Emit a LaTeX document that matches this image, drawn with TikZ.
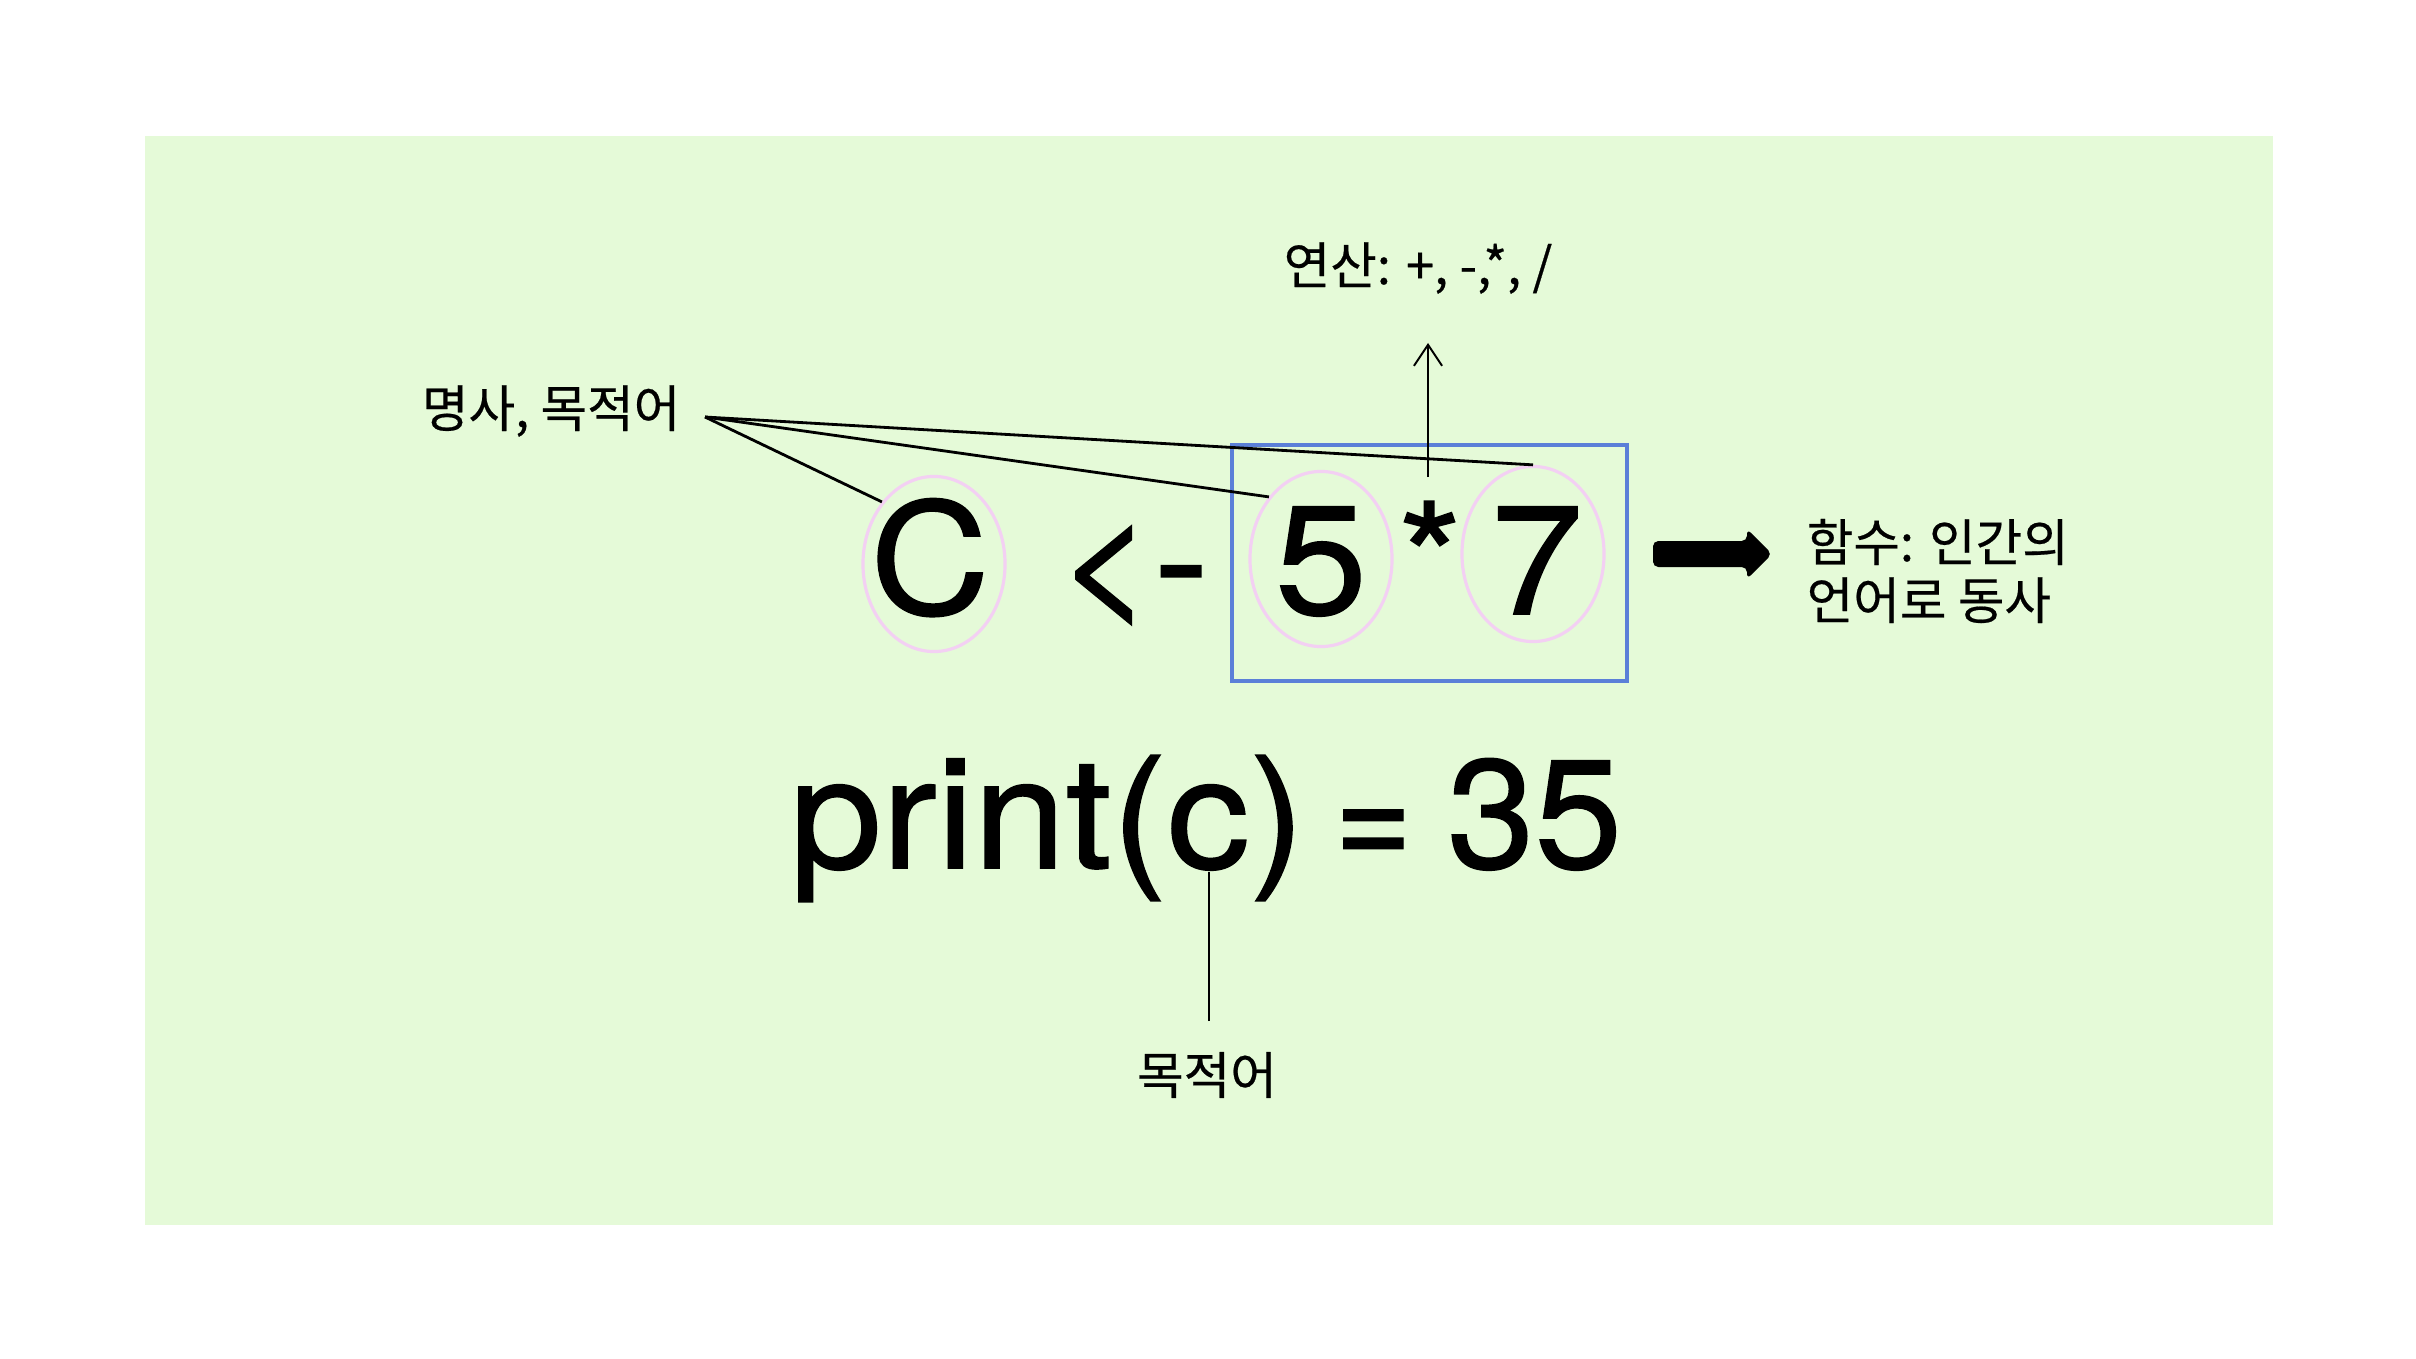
\documentclass[tikz,border=0pt]{standalone}
\usepackage{fontspec}
\usepackage{graphicx}
\usetikzlibrary{arrows.meta,shapes.geometric}
\newfontfamily\krfont[FakeBold=0.4]{Noto Sans CJK KR}
\newfontfamily\bigfont[FakeStretch=1.07,FakeBold=1]{TeX Gyre Heros}
\definecolor{bggreen}{HTML}{E5FAD8}
\definecolor{pinkring}{HTML}{F3D0F3}
\definecolor{boxblue}{HTML}{5B7FD8}
\tikzset{
  bigtxt/.style={font=\bigfont\fontsize{44}{52}\selectfont, anchor=base, inner sep=0pt},
  lbl/.style={font=\krfont\fontsize{14.4}{16.5}\selectfont, inner sep=0pt},
  ring/.style={ellipse, draw=pinkring, line width=0.9pt, minimum width=1.42cm, minimum height=1.75cm, inner sep=0pt},
  leader/.style={line width=0.8pt},
  thinline/.style={line width=0.55pt},
}
\begin{document}
\begin{tikzpicture}[x=0.01cm,y=-0.01cm]
\useasboundingbox (0,0) rectangle (2416,1358);
\fill[white] (0,0) rectangle (2416,1358);
\fill[bggreen] (145,136) rectangle (2273,1225);

% big expression
\node[bigtxt] (C) at (930,614) {C};
\node[bigtxt] (assign) at (1133,614) {<-};
\node[bigtxt] (five) at (1321,614) {5};
\node[bigtxt] (star) at (1430,614) {*};
\node[bigtxt] (seven) at (1537,614) {7};

% rings
\node[ring] (ellC) at (934,564) {};
\node[ring] (ell5) at (1321,559) {};
\node[ring] (ell7) at (1533,554) {};

% operation box
\node[draw=boxblue, line width=1.2pt, minimum width=3.95cm, minimum height=2.36cm, inner sep=0pt] (opbox) at (1429.5,563) {};

% labels
\node[lbl, anchor=east] (noun) at (681,411) {명사, 목적어};
\node[lbl] (ops) at (1418,268) {연산: +, -,*, /};
\node[lbl, anchor=west, align=left] (func) at (1806,571) {함수: 인간의\\언어로 동사};
\node[lbl] (obj) at (1207,1075) {목적어};

% print line
\node[bigtxt, anchor=base west] (print) at (789,868) {print(c)\hspace{8.5pt}\scalebox{0.8}[1]{=}\hspace{10pt}\scalebox{0.95}[1]{35}};

% leader lines
\coordinate (nounend) at (705,417);
\draw[leader] (nounend) -- (ellC.130);
\draw[leader] (nounend) -- (ell5.130);
\draw[leader] (nounend) -- (ell7.90);

% up arrow to operations label
\coordinate (opstart) at (1428,477);
\coordinate (optip) at (1428,343);
\draw[thinline, -{Straight Barb[length=6pt,width=8pt]}] (opstart) -- (optip);

% line from c to object label
\coordinate (cbot) at (1209,872);
\coordinate (objtop) at (1209,1021);
\draw[thinline] (objtop) -- (cbot);

% thick black arrow
\fill[black, rounded corners=1.5pt] (1653,541) -- (1747,541) -- (1747,529) -- (1772,554) -- (1747,579) -- (1747,567) -- (1653,567) -- cycle;
\end{tikzpicture}
\end{document}
